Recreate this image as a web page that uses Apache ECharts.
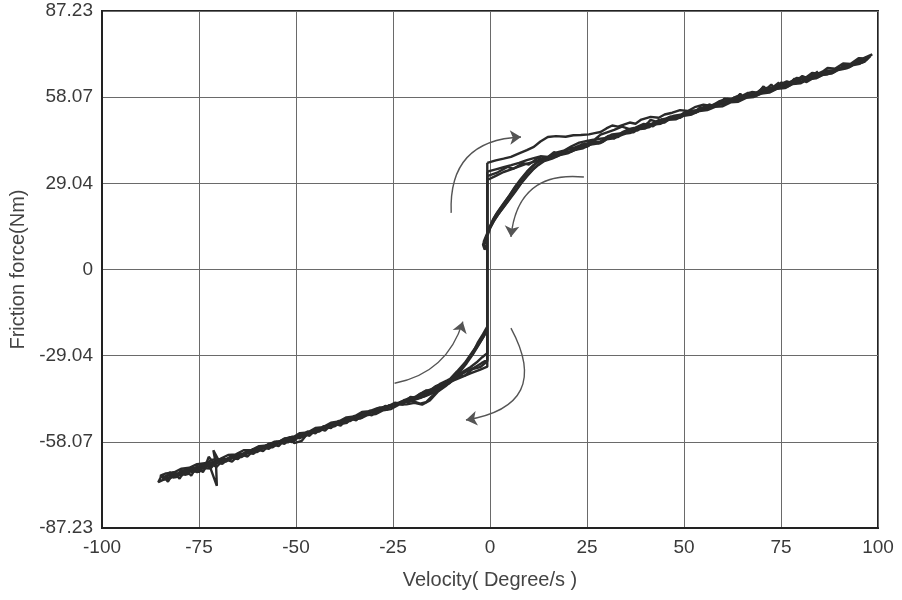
<!DOCTYPE html>
<html>
<head>
<meta charset="utf-8">
<script src="https://cdn.jsdelivr.net/npm/echarts@6/dist/echarts.min.js"></script>
<style>html,body{margin:0;padding:0;background:#fff}#c{width:902px;height:600px}</style>
</head>
<body>
<div id="c"></div>
<script>
// ---- tick labels ----
var xTicks = [-100, -75, -50, -25, 0, 25, 50, 75, 100];
var yTickLabels = ['-87.23', '-58.07', '-29.04', '0', '29.04', '58.07', '87.23'];
var yMax = 87.23;

// ---- measured friction loops: [velocity, friction] ----
var cycleA = [
[-0.7,36.0],[1.5,36.8],[3.5,37.4],[5.4,38.0],[7.5,39.2],[9.5,40.3],[11.3,41.4],[13.0,43.2],[14.9,44.7],[17.0,45.0],[19.5,44.8],[21.5,45.3],[23.4,45.4],[25.5,45.6],[27.0,46.0],[28.5,46.4],[30.0,47.6],[31.5,48.6],[33.0,48.2],[34.5,48.9],[36.0,49.6],[37.5,49.2],[39.0,50.6],[41.4,51.5],[43.5,51.2],[45.0,52.3],[47.0,52.9],[49.0,53.8],[51.0,53.5],[53.0,54.9],[55.0,55.6],[57.0,55.2],[59.0,56.7],[61.0,57.6],[63.0,57.2],[64.5,59.3],[65.5,57.8],[67.0,58.6],[69.0,59.5],[71.0,60.6],[72.5,62.4],[73.5,60.9],[75.0,61.5],[77.0,62.6],[79.0,62.9],[80.5,64.6],[81.5,63.2],[83.0,64.4],[85.0,65.5],[87.0,65.9],[89.0,67.1],[91.0,67.6],[93.0,68.8],[95.0,69.3],[97.0,70.6],[98.0,72.0],
[96.5,70.1],[94.5,69.6],[92.5,68.2],[90.5,67.9],[88.5,66.5],[86.5,66.3],[84.5,64.9],[82.5,64.6],[80.5,63.3],[78.5,63.0],[76.5,61.6],[74.5,61.4],[72.5,60.3],[70.5,59.8],[68.5,58.7],[66.5,58.5],[64.5,57.2],[62.5,56.9],[60.5,55.9],[58.5,55.6],[56.5,54.4],[54.5,54.0],[52.5,53.1],[50.5,52.4],[48.5,51.6],[46.5,50.9],[44.5,49.8],[42.5,49.4],[40.5,48.3],[38.5,47.8],[36.5,46.6],[34.5,46.1],[32.5,44.9],[30.5,44.4],[28.5,43.1],[26.5,42.6],[24.5,41.5],[22.5,40.7],[20.5,39.7],[18.5,38.9],[16.5,38.0],[14.5,37.2],[12.5,36.4],[11.0,35.0],[9.5,33.0],[8.0,30.6],[6.5,28.0],[5.0,25.0],[3.5,22.3],[2.0,19.5],[0.8,17.0],[-0.2,14.0],[-0.8,12.0],[-1.6,9.5],[-1.3,7.4],[-0.7,8.0],
[-0.7,-32.8],[-2.5,-33.8],[-4.9,-35.0],[-7.5,-36.4],[-10.9,-38.3],[-13.0,-40.5],[-15.0,-42.8],[-16.5,-44.8],[-18.0,-45.3],[-19.5,-44.6],[-21.5,-44.2],[-23.5,-45.1],[-25.5,-45.9],[-27.5,-46.8],[-29.5,-47.3],[-31.5,-48.6],[-33.5,-48.9],[-35.5,-50.3],[-37.5,-50.8],[-39.5,-52.4],[-41.5,-52.6],[-43.5,-53.9],[-45.5,-54.3],[-47.5,-55.8],[-49.5,-56.3],[-51.0,-58.3],[-52.5,-57.4],[-54.5,-58.4],[-56.5,-59.5],[-58.5,-59.8],[-60.5,-61.2],[-62.5,-61.4],[-64.5,-62.9],[-66.5,-63.1],[-68.5,-64.6],[-70.0,-64.2],[-71.3,-61.0],[-70.6,-66.0],[-70.4,-73.0],[-72.0,-67.2],[-74.0,-67.0],[-75.5,-68.4],[-77.0,-67.6],[-78.5,-69.3],[-80.0,-68.6],[-81.5,-70.2],[-83.0,-69.4],[-84.5,-71.0],
[-83.0,-70.6],[-81.0,-69.0],[-79.0,-68.8],[-77.0,-66.9],[-75.0,-67.4],[-73.0,-65.6],[-71.0,-65.9],[-69.0,-64.0],[-67.0,-64.1],[-65.0,-62.2],[-63.0,-62.4],[-61.0,-60.6],[-59.0,-60.5],[-57.0,-58.8],[-55.0,-58.6],[-53.0,-57.0],[-51.0,-56.9],[-49.0,-55.2],[-47.0,-55.0],[-45.0,-53.5],[-43.0,-53.2],[-41.0,-51.7],[-39.0,-51.3],[-37.0,-49.9],[-35.0,-49.6],[-33.0,-48.1],[-31.0,-47.8],[-29.0,-46.8],[-27.0,-46.3],[-24.7,-45.6],[-22.0,-44.8],[-19.5,-44.0],[-17.7,-43.2],[-15.5,-41.9],[-12.6,-40.2],[-10.5,-38.0],[-9.2,-36.3],[-7.5,-33.5],[-5.7,-30.5],[-4.2,-27.5],[-3.2,-24.8],[-1.8,-21.8],[-0.7,-19.3],[-0.7,30.2]
];
var cycleB = [
[-0.7,30.2],[1.5,31.6],[3.5,32.9],[5.5,33.8],[7.2,34.6],[9.5,35.7],[11.3,36.3],[13.5,37.3],[15.5,37.9],[17.5,39.0],[20.0,39.3],[22.0,40.9],[24.0,41.8],[26.0,42.2],[28.5,42.7],[30.5,44.3],[32.0,45.1],[34.0,45.4],[36.0,46.3],[38.0,47.9],[40.0,48.4],[41.4,50.5],[43.0,49.8],[45.0,50.1],[47.0,51.4],[49.0,51.9],[51.0,52.6],[53.0,53.6],[55.0,53.9],[57.0,55.2],[59.0,55.7],[60.5,57.8],[61.5,56.4],[63.0,57.0],[65.0,58.3],[67.0,58.9],[69.0,59.4],[70.5,61.8],[71.5,59.9],[73.0,60.8],[75.0,62.1],[77.0,62.4],[78.5,64.4],[79.5,62.7],[81.0,63.9],[83.0,65.2],[85.0,65.6],[87.0,67.0],[89.0,67.2],[91.0,68.5],[93.0,68.9],[95.0,70.2],[97.5,71.5],
[96.0,69.8],[94.0,69.4],[92.0,67.9],[90.0,67.6],[88.0,66.1],[86.0,65.8],[84.0,64.5],[82.0,64.2],[80.0,62.8],[78.0,62.6],[76.0,61.2],[74.0,61.0],[72.0,59.7],[70.0,59.4],[68.0,58.2],[66.0,57.9],[64.0,56.6],[62.0,56.4],[60.0,55.1],[58.0,54.9],[56.0,53.8],[54.0,53.5],[52.0,52.3],[50.0,51.9],[48.0,50.7],[46.0,50.5],[44.0,49.2],[42.0,48.9],[40.0,47.6],[38.0,47.3],[36.0,46.0],[34.0,45.7],[32.0,44.3],[30.0,43.9],[28.0,42.6],[26.0,42.2],[24.0,40.9],[22.0,40.4],[20.0,39.2],[18.0,38.6],[16.0,37.4],[14.0,36.6],[12.5,35.3],[11.0,33.6],[9.5,31.4],[8.0,29.0],[6.5,26.2],[5.0,23.6],[3.5,21.0],[2.0,18.4],[0.8,16.0],[-0.3,13.2],[-0.9,11.0],[-1.4,8.8],[-0.7,9.0],
[-0.7,-28.2],[-2.0,-29.6],[-3.5,-31.4],[-5.0,-32.9],[-7.0,-34.5],[-9.0,-36.0],[-11.0,-37.4],[-13.0,-38.7],[-15.0,-40.4],[-17.0,-41.2],[-19.0,-42.9],[-21.0,-43.5],[-23.0,-44.9],[-25.0,-45.3],[-27.0,-46.7],[-29.0,-47.1],[-31.0,-48.4],[-33.0,-48.7],[-35.0,-50.1],[-37.0,-50.6],[-39.0,-51.8],[-41.0,-52.4],[-43.0,-53.5],[-45.0,-54.1],[-47.0,-55.3],[-48.5,-57.8],[-50.5,-58.6],[-51.5,-56.6],[-53.0,-57.2],[-55.0,-58.5],[-57.0,-59.0],[-59.0,-60.2],[-61.0,-60.9],[-63.0,-61.9],[-65.0,-62.6],[-67.0,-63.8],[-69.0,-64.3],[-71.0,-65.6],[-72.5,-63.2],[-73.5,-66.9],[-75.0,-66.8],[-76.5,-68.4],[-78.0,-68.0],[-79.5,-69.5],[-81.0,-69.1],[-82.5,-70.5],[-84.0,-70.0],
[-82.5,-69.2],[-80.5,-68.9],[-78.5,-67.6],[-76.5,-67.3],[-74.5,-66.1],[-72.5,-65.8],[-70.5,-64.5],[-68.5,-64.3],[-66.5,-63.0],[-64.5,-62.7],[-62.5,-61.5],[-60.5,-61.1],[-58.5,-60.0],[-56.5,-59.5],[-54.5,-58.5],[-52.5,-57.9],[-50.5,-56.9],[-48.5,-56.2],[-46.5,-55.1],[-44.5,-54.6],[-42.5,-53.4],[-40.5,-52.9],[-38.5,-51.6],[-36.5,-51.1],[-34.5,-49.8],[-32.5,-49.4],[-30.5,-48.1],[-28.5,-47.6],[-26.5,-46.3],[-24.5,-45.8],[-22.5,-44.8],[-20.5,-43.6],[-18.5,-43.0],[-16.5,-41.8],[-14.5,-40.8],[-12.5,-39.3],[-10.5,-37.2],[-8.5,-34.4],[-6.5,-31.5],[-4.8,-28.3],[-3.2,-25.3],[-1.8,-22.4],[-0.7,-20.0],[-0.7,33.0]
];
var cycleC = [
[-0.7,33.0],[1.5,33.8],[3.5,34.5],[5.5,35.2],[7.5,36.0],[9.5,36.9],[11.3,37.6],[13.0,38.2],[15.0,38.0],[17.0,39.4],[19.0,40.1],[21.0,41.6],[23.0,42.8],[25.0,43.4],[27.0,43.9],[28.5,45.5],[30.0,46.2],[32.0,47.1],[34.0,48.2],[36.0,47.4],[37.5,47.9],[39.5,49.1],[41.5,48.9],[43.5,50.4],[45.5,51.0],[47.5,51.9],[49.5,52.3],[51.5,53.6],[53.5,53.2],[55.5,54.8],[57.5,55.5],[59.5,56.2],[61.5,56.8],[63.5,58.4],[65.5,58.1],[67.5,59.9],[69.5,59.6],[71.5,61.2],[73.5,61.6],[75.5,62.0],[77.5,63.4],[79.5,63.5],[81.5,64.8],[83.5,64.9],[85.5,66.3],[87.5,66.4],[89.5,67.8],[91.5,68.0],[93.5,69.4],[95.5,69.6],[97.0,71.6],
[95.5,70.3],[93.5,69.1],[91.5,68.7],[89.5,67.4],[87.5,67.0],[85.5,65.9],[83.5,65.6],[81.5,64.3],[79.5,64.0],[77.5,62.8],[75.5,62.6],[73.5,61.3],[71.5,60.9],[69.5,59.8],[67.5,59.5],[65.5,58.3],[63.5,58.0],[61.5,56.7],[59.5,56.4],[57.5,55.3],[55.5,55.0],[53.5,53.8],[51.5,53.5],[49.5,52.2],[47.5,51.9],[45.5,50.6],[43.5,50.3],[41.5,49.1],[39.5,48.7],[37.5,47.5],[35.5,47.2],[33.5,45.9],[31.5,45.6],[29.5,44.3],[27.5,44.0],[25.5,42.6],[23.5,42.1],[21.5,41.0],[19.5,40.2],[17.5,39.0],[15.5,38.3],[13.5,37.3],[12.0,36.0],[10.5,34.2],[9.0,31.8],[7.5,29.4],[6.0,26.8],[4.5,24.0],[3.0,21.2],[1.6,18.6],[0.4,15.6],[-0.5,12.6],[-1.1,10.4],[-1.8,8.4],[-1.4,6.8],[-0.7,7.5],
[-0.7,-30.5],[-2.2,-31.6],[-4.0,-33.1],[-6.0,-34.3],[-8.0,-35.8],[-10.0,-36.9],[-12.0,-38.6],[-14.0,-39.4],[-16.0,-41.3],[-18.0,-41.9],[-20.0,-43.7],[-22.0,-44.0],[-24.0,-45.6],[-26.0,-45.8],[-28.0,-47.5],[-30.0,-47.6],[-32.0,-49.3],[-34.0,-49.4],[-36.0,-51.1],[-38.0,-51.2],[-40.0,-52.9],[-42.0,-53.0],[-44.0,-54.7],[-46.0,-54.8],[-48.0,-56.5],[-50.0,-56.6],[-52.0,-58.3],[-54.0,-58.2],[-56.0,-60.0],[-58.0,-59.9],[-60.0,-61.6],[-62.0,-61.5],[-64.0,-63.3],[-66.0,-63.0],[-68.0,-64.8],[-70.0,-64.6],[-72.0,-66.3],[-74.0,-65.9],[-76.0,-67.7],[-78.0,-67.2],[-80.0,-69.1],[-82.0,-68.5],[-84.0,-70.4],[-85.0,-69.6],
[-83.5,-68.8],[-81.5,-68.5],[-79.5,-67.2],[-77.5,-66.9],[-75.5,-65.7],[-73.5,-65.4],[-71.5,-64.2],[-69.5,-63.9],[-67.5,-62.6],[-65.5,-62.4],[-63.5,-61.0],[-61.5,-60.9],[-59.5,-59.6],[-57.5,-59.4],[-55.5,-58.1],[-53.5,-57.9],[-51.5,-56.6],[-49.5,-56.4],[-47.5,-55.1],[-45.5,-54.9],[-43.5,-53.6],[-41.5,-53.4],[-39.5,-52.1],[-37.5,-51.9],[-35.5,-50.6],[-33.5,-50.3],[-31.5,-49.1],[-29.5,-48.8],[-27.5,-47.5],[-25.5,-47.1],[-23.5,-45.6],[-21.5,-45.5],[-19.5,-45.0],[-17.5,-45.6],[-15.5,-44.2],[-13.5,-41.3],[-11.5,-39.4],[-9.5,-37.2],[-7.8,-34.6],[-6.0,-31.6],[-4.5,-28.8],[-3.0,-25.6],[-1.6,-22.6],[-0.7,-19.8],[-0.7,31.5]
];
var cycleD = [
[-0.7,31.5],[2.0,32.8],[4.5,34.6],[6.0,34.0],[8.5,35.9],[10.0,35.4],[12.5,37.8],[14.0,37.0],[16.5,39.6],[18.0,38.7],[20.5,41.0],[22.0,40.3],[24.5,42.6],[23.5,41.4],[26.5,43.3],[28.0,42.6],[30.5,45.1],[32.0,44.2],[34.5,46.6],[33.5,45.3],[36.5,47.4],[38.0,46.9],[40.5,49.3],[42.0,48.3],[44.5,50.8],[43.5,49.6],[46.5,51.6],[48.0,50.9],[50.5,53.4],[52.0,52.5],[54.5,55.0],[53.5,53.6],[56.5,55.7],[58.0,55.0],[60.5,57.5],[62.0,56.6],[64.5,59.1],[63.5,57.6],[66.5,59.6],[68.0,58.9],[70.5,61.4],[72.0,60.5],[74.5,63.1],[73.5,61.6],[76.5,63.5],[78.0,62.8],[80.5,65.3],[82.0,64.4],[84.5,66.8],[83.5,65.4],[86.5,67.3],[88.0,66.6],[90.5,69.1],[92.0,68.2],[94.5,70.6],[93.5,69.4],[96.5,71.4],[98.5,72.6],
[97.0,71.2],[95.0,71.3],[93.0,69.4],[91.0,69.5],[89.0,67.8],[87.0,68.0],[85.0,66.1],[83.0,66.3],[81.0,64.4],[79.0,64.6],[77.0,62.8],[75.0,63.0],[73.0,61.1],[71.0,61.3],[69.0,59.5],[67.0,59.7],[65.0,57.8],[63.0,58.1],[61.0,56.2],[59.0,56.4],[57.0,54.5],[55.0,54.8],[53.0,52.9],[51.0,53.1],[49.0,51.2],[47.0,51.5],[45.0,49.6],[43.0,49.8],[41.0,48.0],[39.0,48.2],[37.0,46.3],[35.0,46.5],[33.0,44.7],[31.0,44.9],[29.0,43.0],[27.0,43.2],[25.0,41.4],[23.0,41.5],[21.0,39.8],[19.0,39.6],[17.0,38.1],[15.0,37.6],[13.0,36.0],[11.5,34.4],[10.0,32.4],[8.5,30.1],[7.0,27.4],[5.5,24.8],[4.0,22.0],[2.5,19.4],[1.2,16.8],[0.1,14.2],[-0.6,11.6],[-1.2,9.6],[-0.7,8.6],
[-0.7,-31.0],[-2.5,-32.9],[-4.5,-33.6],[-6.5,-35.8],[-8.5,-36.2],[-10.5,-38.4],[-12.5,-38.6],[-14.5,-41.0],[-16.5,-40.8],[-18.5,-43.4],[-20.5,-43.0],[-22.5,-45.6],[-24.5,-44.9],[-26.5,-47.3],[-28.5,-46.6],[-30.5,-49.2],[-32.5,-48.3],[-34.5,-50.9],[-36.5,-50.1],[-38.5,-52.7],[-40.5,-51.8],[-42.5,-54.4],[-44.5,-53.6],[-46.5,-56.1],[-48.5,-55.3],[-50.5,-57.9],[-52.5,-57.0],[-54.5,-59.6],[-56.5,-58.8],[-58.5,-61.3],[-60.5,-60.5],[-62.5,-63.1],[-64.5,-62.2],[-66.5,-64.8],[-68.5,-63.9],[-70.5,-66.6],[-72.5,-65.0],[-74.0,-68.4],[-75.5,-66.2],[-77.0,-69.6],[-78.5,-67.4],[-80.0,-70.6],[-81.5,-68.3],[-83.0,-71.6],[-84.5,-69.2],[-85.5,-71.8],
[-84.0,-70.8],[-82.5,-68.4],[-81.0,-70.2],[-79.5,-67.6],[-78.0,-69.2],[-76.5,-66.6],[-75.0,-68.4],[-73.5,-65.9],[-72.0,-67.1],[-70.5,-64.8],[-69.0,-65.6],[-67.0,-63.4],[-65.0,-64.0],[-63.0,-61.6],[-61.0,-62.2],[-59.0,-59.9],[-57.0,-60.5],[-55.0,-58.1],[-53.0,-58.8],[-51.0,-56.4],[-49.0,-57.0],[-47.0,-54.6],[-45.0,-55.3],[-43.0,-52.9],[-41.0,-53.5],[-39.0,-51.1],[-37.0,-51.8],[-35.0,-49.4],[-33.0,-50.0],[-31.0,-47.6],[-29.0,-48.3],[-27.0,-46.0],[-25.0,-46.5],[-23.0,-44.6],[-21.0,-44.8],[-19.0,-43.6],[-17.0,-42.9],[-15.0,-41.8],[-13.0,-40.3],[-11.0,-38.6],[-9.5,-36.8],[-8.0,-34.4],[-6.5,-31.9],[-5.0,-29.2],[-3.5,-26.4],[-2.0,-23.3],[-0.7,-20.6],[-0.7,36.0]
];

// ---- direction arrows: start, end, bend ----
var arrowStarts = [[-10.0, 19.1], [24.2, 31.2], [-24.6, -38.4], [5.4, -19.8]];
var arrowEnds   = [[8.0, 44.7], [5.4, 11.0], [-7.0, -17.6], [-6.2, -50.8]];
var arrowBends  = [0.5, -0.5, -0.3, 0.7];

var chart = echarts.init(document.getElementById('c'), null, {renderer: 'canvas'});
var font = 'Liberation Sans, Arial, sans-serif';
var lineSeries = [cycleA, cycleB, cycleC, cycleD].map(function (d) {
  return {
    type: 'line', data: d, showSymbol: false, symbol: 'none',
    lineStyle: {color: '#2a2a2a', width: 2.4}, z: 3, animation: false
  };
});
var arrowData = arrowStarts.map(function (s, i) {
  return {coords: [s, arrowEnds[i]], lineStyle: {curveness: arrowBends[i]}};
});

chart.setOption({
  animation: false,
  backgroundColor: '#fff',
  grid: {left: 100, right: 24, top: 11, bottom: 72, show: true, borderColor: '#222', borderWidth: 2, containLabel: false},
  xAxis: {
    type: 'value', min: xTicks[0], max: xTicks[xTicks.length - 1], interval: 25,
    name: 'Velocity( Degree/s )', nameLocation: 'middle', nameGap: 42,
    nameTextStyle: {fontFamily: font, fontSize: 20, color: '#444'},
    axisLine: {show: true, onZero: false, lineStyle: {color: '#222', width: 2}},
    axisTick: {show: false},
    axisLabel: {fontFamily: font, fontSize: 19, color: '#3a3a3a', margin: 10},
    splitLine: {show: true, lineStyle: {color: '#6a6a6a', width: 1}}
  },
  yAxis: {
    type: 'value', min: -yMax, max: yMax, interval: yMax / 3,
    name: 'Friction force(Nm)', nameLocation: 'middle', nameGap: 74,
    nameTextStyle: {fontFamily: font, fontSize: 20, color: '#444'},
    axisLine: {show: true, onZero: false, lineStyle: {color: '#222', width: 2}},
    axisTick: {show: false},
    axisLabel: {
      fontFamily: font, fontSize: 19, color: '#3a3a3a', margin: 9,
      formatter: function (v) {
        var idx = Math.round((v + yMax) / (yMax / 3));
        return yTickLabels[idx] !== undefined ? yTickLabels[idx] : '';
      }
    },
    splitLine: {show: true, lineStyle: {color: '#6a6a6a', width: 1}}
  },
  series: lineSeries.concat([{
    type: 'lines', coordinateSystem: 'cartesian2d', polyline: false,
    symbol: ['none', 'arrow'], symbolSize: 11, z: 4, animation: false,
    lineStyle: {color: '#555', width: 1.4, opacity: 1},
    data: arrowData
  }])
});
</script>
</body>
</html>
